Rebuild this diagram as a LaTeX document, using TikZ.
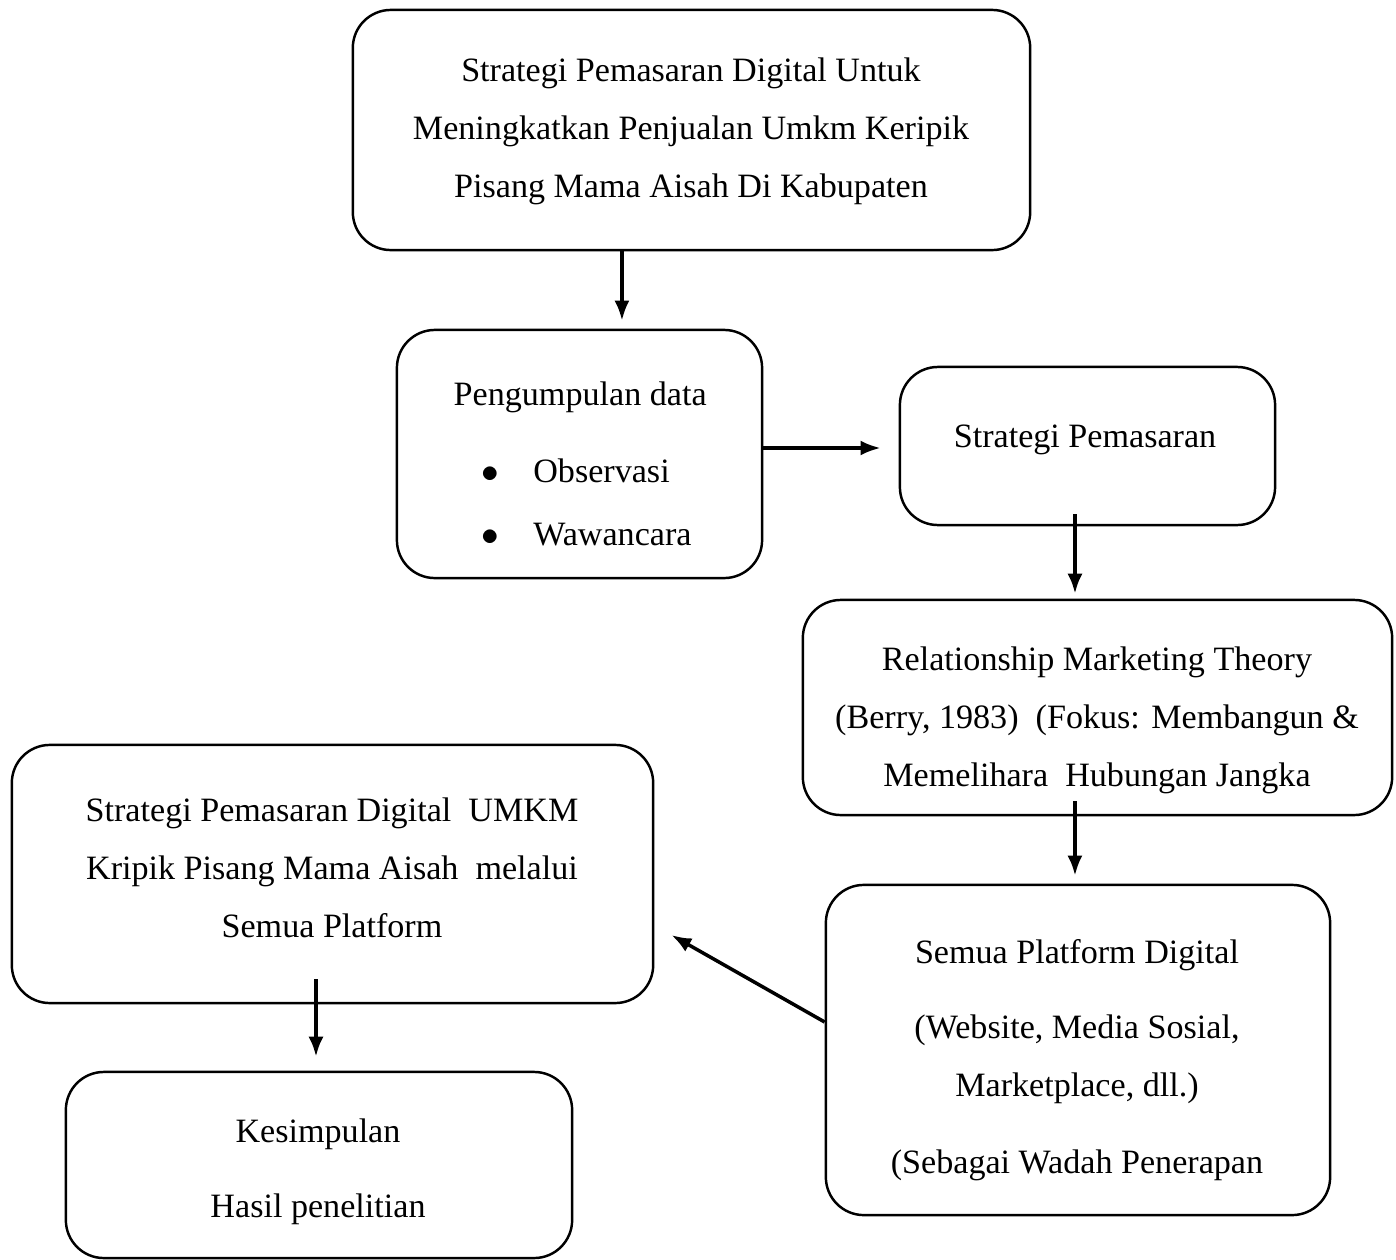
\documentclass[tikz,border=0pt]{standalone}
\usepackage{fontspec}
\setmainfont{Liberation Serif}
\usetikzlibrary{positioning, calc, arrows.meta}

\tikzset{
  box/.style={draw, line width=0.7pt, rounded corners=0.38cm, inner sep=0pt},
  txt/.style={align=center, inner sep=0pt, font=\fontsize{9.7}{16.5}\selectfont},
  arr/.style={line width=1pt, -{Latex[length=0.2cm,width=0.15cm]}}
}

\begin{document}
\begin{tikzpicture}[x=0.01cm, y=-0.01cm]
    \useasboundingbox (0,0) rectangle (1396,1260);
    % boxes
    \node[box, minimum width=6.77cm, minimum height=2.40cm] (top) at (691.5,130) {};
    \node[box, minimum width=3.65cm, minimum height=2.48cm] (pen) at (579.5,454) {};
    \node[box, minimum width=3.75cm, minimum height=1.58cm] (strat) at (1087.5,446) {};
    \node[box, minimum width=5.89cm, minimum height=2.15cm] (rel) at (1097.5,707.5) {};
    \node[box, minimum width=5.04cm, minimum height=3.30cm] (plat) at (1078,1050) {};
    \node[box, minimum width=6.41cm, minimum height=2.58cm] (umkm) at (332.5,874) {};
    \node[box, minimum width=5.06cm, minimum height=1.86cm] (kes) at (319,1165) {};
    % texts
    \node[txt] (top-t) at (691,131) {Strategi Pemasaran Digital Untuk\\Meningkatkan Penjualan Umkm Keripik\\Pisang Mama Aisah Di Kabupaten};
    \node[txt, align=left, anchor=west] (pen-t) at (453,464) {Pengumpulan data\\[0.19cm]
      \hspace*{0.28cm}$\bullet$\hspace{0.34cm}Observasi\\[0.05cm]
      \hspace*{0.28cm}$\bullet$\hspace{0.34cm}Wawancara};
    \node[txt] (strat-t) at (1085,440) {Strategi Pemasaran};
    \node[txt] (rel-t) at (1097,720) {Relationship Marketing Theory\\(Berry, 1983)~ (Fokus: Membangun \&\\Memelihara~ Hubungan Jangka};
    \node[txt] (plat-t) at (1077,1060) {Semua Platform Digital\\[0.17cm](Website, Media Sosial,\\Marketplace, dll.)\\[0.19cm](Sebagai Wadah Penerapan};
    \node[txt] (umkm-t) at (332,868) {Strategi Pemasaran Digital~ UMKM\\Kripik Pisang Mama Aisah~ melalui\\Semua Platform};
    \node[txt] (kes-t) at (318,1172) {Kesimpulan\\[0.17cm]Hasil penelitian};
    % arrows
    \draw[arr, shorten >=0.08cm] ([xshift=-0.695cm]top.south) -- ([xshift=-0.695cm]top.south |- pen.north);
    \draw[arr, shorten >=0.18cm] ([yshift=0.06cm]pen.east) -- ([yshift=0.06cm]pen.east -| strat.west);
    \draw[arr, shorten >=0.05cm] ([xshift=-0.125cm,yshift=0.12cm]strat.south) -- ([xshift=-0.125cm]strat.south |- rel.north);
    \draw[arr, shorten >=0.08cm] ([xshift=-0.225cm,yshift=0.15cm]rel.south) -- ([xshift=-0.225cm]rel.south |- plat.north);
    \draw[arr] ([yshift=0.28cm]plat.west) -- ([xshift=0.17cm,yshift=-0.61cm]umkm.east);
    \draw[arr, shorten >=0.14cm] ([xshift=-0.165cm,yshift=0.25cm]umkm.south) -- ([xshift=-0.165cm]umkm.south |- kes.north);
\end{tikzpicture}
\end{document}
